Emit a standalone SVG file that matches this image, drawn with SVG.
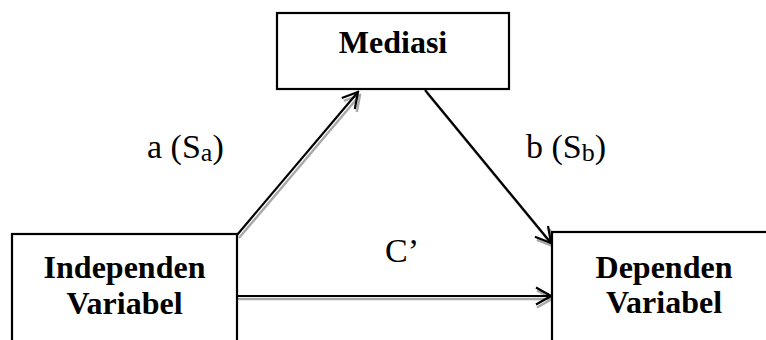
<svg xmlns="http://www.w3.org/2000/svg" width="766" height="340" viewBox="0 0 766 340">
  <style>
    .box { fill: #ffffff; stroke: #000000; stroke-width: 2.2; }
    text { font-family: "Liberation Serif", "Times New Roman", Times, "DejaVu Serif", serif; fill: #000000; }
    .title { font-weight: bold; font-size: 32px; text-anchor: middle; }
    .lbl { font-size: 34px; }
    .sub { font-size: 26px; }
    .edge { fill: none; stroke: #000000; stroke-width: 2.2; }
    .shadow { fill: none; stroke: #a8a8a8; stroke-width: 2.4; }
  </style>
  <defs>
    <marker id="arrow" viewBox="0 0 20 20" refX="18" refY="10" markerWidth="20" markerHeight="20" markerUnits="userSpaceOnUse" orient="auto">
      <polyline points="3,1.5 18,10 3,18.5" fill="none" stroke="#000000" stroke-width="2.2"/>
    </marker>
    <marker id="arrowShadow" viewBox="0 0 20 20" refX="18" refY="10" markerWidth="20" markerHeight="20" markerUnits="userSpaceOnUse" orient="auto">
      <polyline points="3,1.5 18,10 3,18.5" fill="none" stroke="#a8a8a8" stroke-width="2.4"/>
    </marker>
  </defs>
  <rect width="766" height="340" fill="#ffffff"/>

  <g id="connectors">
    <!-- soft drop shadows under the arrows -->
    <line class="shadow" x1="239" y1="238" x2="360" y2="95" marker-end="url(#arrowShadow)"/>
    <line class="shadow" x1="427" y1="93" x2="553" y2="246" marker-end="url(#arrowShadow)"/>
    <line class="shadow" x1="238" y1="299" x2="552" y2="299" marker-end="url(#arrowShadow)"/>
    <!-- arrows -->
    <line id="edge-a" class="edge" x1="237" y1="235" x2="358" y2="92" marker-end="url(#arrow)"/>
    <line id="edge-b" class="edge" x1="425" y1="90" x2="551" y2="243" marker-end="url(#arrow)"/>
    <line id="edge-c" class="edge" x1="237" y1="296" x2="551" y2="296" marker-end="url(#arrow)"/>
    <!-- path labels -->
    <text class="lbl" x="147" y="158">a (S<tspan class="sub" dy="3">a</tspan><tspan dy="-3">)</tspan></text>
    <text class="lbl" x="526" y="158">b (S<tspan class="sub" dy="3">b</tspan><tspan dy="-3">)</tspan></text>
    <text class="lbl" x="385" y="262">C’</text>
  </g>

  <g id="node-mediasi">
    <rect class="box" x="277" y="13" width="232" height="76"/>
    <text class="title" x="393" y="53">Mediasi</text>
  </g>

  <g id="node-independen">
    <rect class="box" x="12" y="234" width="225" height="120"/>
    <text class="title" x="124.5" y="278">Independen</text>
    <text class="title" x="124.5" y="314">Variabel</text>
  </g>

  <g id="node-dependen">
    <rect class="box" x="552" y="232" width="225" height="120"/>
    <text class="title" x="664" y="278">Dependen</text>
    <text class="title" x="664" y="313">Variabel</text>
  </g>
</svg>
